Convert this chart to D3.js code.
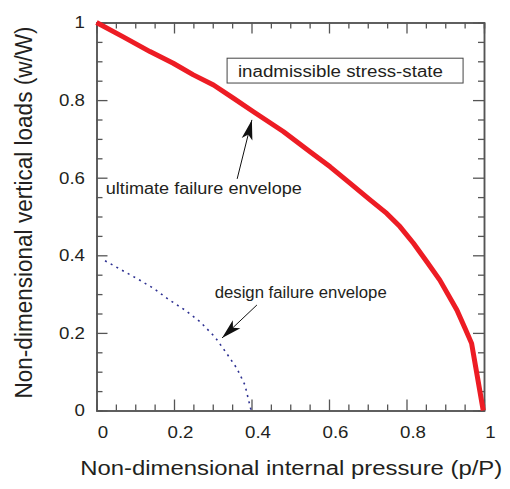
<!DOCTYPE html>
<html>
<head>
<meta charset="utf-8">
<script src="https://cdn.jsdelivr.net/npm/d3@7"></script>
<style>
  body { margin: 0; background: #fff; }
  text { font-family: "Liberation Sans", Arial, Helvetica, sans-serif; fill: #231f20; }
</style>
</head>
<body>
<div id="chart"></div>
<script>
// failure envelopes (p/P on x, w/W on y)
var ultimateP = [0, 0.069, 0.138, 0.198, 0.25, 0.302, 0.353, 0.405, 0.482, 0.551, 0.603, 0.654, 0.706, 0.749, 0.783, 0.818, 0.852, 0.886, 0.930, 0.951, 0.968, 0.998];
var ultimateW = [1.0, 0.963, 0.925, 0.895, 0.865, 0.839, 0.805, 0.770, 0.719, 0.667, 0.628, 0.586, 0.543, 0.508, 0.474, 0.431, 0.384, 0.336, 0.259, 0.212, 0.173, 0.0];

var designP = [0.022, 0.065, 0.108, 0.147, 0.185, 0.228, 0.267, 0.306, 0.336, 0.362, 0.383, 0.399];
var designW = [0.386, 0.362, 0.338, 0.315, 0.287, 0.259, 0.229, 0.189, 0.147, 0.109, 0.066, 0.0];

var majorTicks = [0, 0.2, 0.4, 0.6, 0.8, 1];
var tickLabels = ["0", "0.2", "0.4", "0.6", "0.8", "1"];
var minorTicks = [0.05, 0.1, 0.15, 0.25, 0.3, 0.35, 0.45, 0.5, 0.55, 0.65, 0.7, 0.75, 0.85, 0.9, 0.95];

var xTitle = "Non-dimensional internal pressure (p/P)";
var yTitle = "Non-dimensional vertical loads (w/W)";

// labels and arrows, in data units
var labels = [
  { text: "ultimate failure envelope", p: 0.024, w: 0.558, len: 196 },
  { text: "design failure envelope", p: 0.305, w: 0.29, len: 172 }
];
var arrows = [
  { p0: 0.363, w0: 0.597, p1: 0.401, w1: 0.749 },
  { p0: 0.414, w0: 0.272, p1: 0.324, w1: 0.187 }
];
var boxNote = { text: "inadmissible stress-state", p0: 0.337, p1: 0.946, w0: 0.908, w1: 0.844, tp: 0.365, tw: 0.859, len: 205 };

var width = 510, height = 489;
var margin = { top: 22.5, right: 26, bottom: 78.5, left: 96.5 };
var stretchK = 1.1; // the original type is a bit wider than normal

var svg = d3.select("#chart").append("svg")
    .attr("width", width)
    .attr("height", height);

var x = d3.scaleLinear().domain([0, 1]).range([margin.left, width - margin.right]);
var y = d3.scaleLinear().domain([0, 1]).range([height - margin.bottom, margin.top]);

function stretch(sel, k) {
  sel.each(function() {
    var w = this.getComputedTextLength();
    d3.select(this).attr("textLength", w * k).attr("lengthAdjust", "spacingAndGlyphs");
  });
}

function styleAxis(g) {
  g.select(".domain").attr("stroke", "#555").attr("stroke-width", 1.5);
  g.selectAll(".tick line").attr("stroke", "#555").attr("stroke-width", 1.3);
}

// major and minor ticks, pointing inward on all four sides
var bottom = svg.append("g")
    .attr("transform", `translate(0,${y(0)})`)
    .call(d3.axisBottom(x).tickValues(majorTicks).tickSize(-11).tickSizeOuter(0).tickPadding(15.5)
      .tickFormat((d, i) => tickLabels[i]))
    .call(styleAxis);
bottom.selectAll("text")
    .attr("x", 6)
    .style("font-size", "17px")
    .attr("fill", "#231f20")
    .call(stretch, stretchK);

var left = svg.append("g")
    .attr("transform", `translate(${x(0)},0)`)
    .call(d3.axisLeft(y).tickValues(majorTicks).tickSize(-11).tickSizeOuter(0).tickPadding(11.5)
      .tickFormat((d, i) => tickLabels[i]))
    .call(styleAxis);
left.selectAll("text")
    .style("font-size", "17px")
    .attr("fill", "#231f20")
    .call(stretch, stretchK);

svg.append("g")
    .attr("transform", `translate(0,${y(1)})`)
    .call(d3.axisTop(x).tickValues(majorTicks).tickSize(-11).tickSizeOuter(0).tickFormat(""))
    .call(styleAxis);

svg.append("g")
    .attr("transform", `translate(${x(1)},0)`)
    .call(d3.axisRight(y).tickValues(majorTicks).tickSize(-11).tickSizeOuter(0).tickFormat(""))
    .call(styleAxis);

svg.append("g").attr("transform", `translate(0,${y(0)})`)
    .call(d3.axisBottom(x).tickValues(minorTicks).tickSize(-6).tickFormat("")).call(styleAxis);
svg.append("g").attr("transform", `translate(0,${y(1)})`)
    .call(d3.axisTop(x).tickValues(minorTicks).tickSize(-6).tickFormat("")).call(styleAxis);
svg.append("g").attr("transform", `translate(${x(0)},0)`)
    .call(d3.axisLeft(y).tickValues(minorTicks).tickSize(-6).tickFormat("")).call(styleAxis);
svg.append("g").attr("transform", `translate(${x(1)},0)`)
    .call(d3.axisRight(y).tickValues(minorTicks).tickSize(-6).tickFormat("")).call(styleAxis);

// axis titles
svg.append("text")
    .attr("x", (x(0) + x(1)) / 2 + 1)
    .attr("y", 475)
    .attr("text-anchor", "middle")
    .style("font-size", "20px")
    .text(xTitle)
    .attr("textLength", 422)
    .attr("lengthAdjust", "spacingAndGlyphs");

svg.append("text")
    .attr("transform", `translate(32,${(y(0) + y(1)) / 2 - 4}) rotate(-90)`)
    .attr("text-anchor", "middle")
    .style("font-size", "23px")
    .text(yTitle)
    .attr("textLength", 372)
    .attr("lengthAdjust", "spacingAndGlyphs");

// the two envelopes
var line = d3.line().x(d => x(d[0])).y(d => y(d[1]));

svg.append("path")
    .datum(ultimateP.map((p, i) => [p, ultimateW[i]]))
    .attr("fill", "none")
    .attr("stroke", "#ed1c24")
    .attr("stroke-width", 5)
    .attr("stroke-linejoin", "round")
    .attr("d", line);

svg.append("path")
    .datum(designP.map((p, i) => [p, designW[i]]))
    .attr("fill", "none")
    .attr("stroke", "#2e3192")
    .attr("stroke-width", 1.6)
    .attr("stroke-dasharray", "2,4.5")
    .attr("d", line);

// note box
svg.append("rect")
    .attr("x", x(boxNote.p0))
    .attr("y", y(boxNote.w0))
    .attr("width", x(boxNote.p1) - x(boxNote.p0))
    .attr("height", y(boxNote.w1) - y(boxNote.w0))
    .attr("fill", "none")
    .attr("stroke", "#444")
    .attr("stroke-width", 1);

svg.append("text")
    .attr("x", x(boxNote.tp))
    .attr("y", y(boxNote.tw))
    .style("font-size", "16px")
    .text(boxNote.text)
    .attr("textLength", boxNote.len)
    .attr("lengthAdjust", "spacingAndGlyphs");

svg.selectAll(".note")
  .data(labels)
  .join("text")
    .attr("class", "note")
    .attr("x", d => x(d.p))
    .attr("y", d => y(d.w))
    .style("font-size", "16px")
    .text(d => d.text)
    .attr("textLength", d => d.len)
    .attr("lengthAdjust", "spacingAndGlyphs");

// arrows
svg.append("defs").append("marker")
    .attr("id", "head")
    .attr("markerUnits", "userSpaceOnUse")
    .attr("viewBox", "-20 -6 21 12")
    .attr("refX", 0)
    .attr("refY", 0)
    .attr("markerWidth", 21)
    .attr("markerHeight", 12)
    .attr("orient", "auto")
  .append("path")
    .attr("d", "M0,0 L-20,-5.5 L-15,0 L-20,5.5 Z")
    .attr("fill", "#111");

svg.selectAll(".arrow")
  .data(arrows)
  .join("line")
    .attr("class", "arrow")
    .attr("x1", d => x(d.p0))
    .attr("y1", d => y(d.w0))
    .attr("x2", d => x(d.p1))
    .attr("y2", d => y(d.w1))
    .attr("stroke", "#111")
    .attr("stroke-width", 1)
    .attr("marker-end", "url(#head)");
</script>
</body>
</html>
